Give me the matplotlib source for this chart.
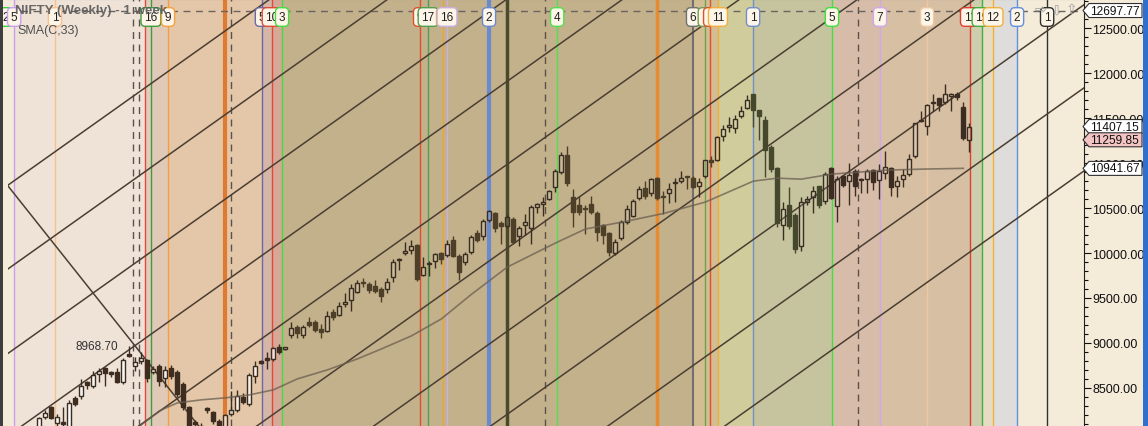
import matplotlib
matplotlib.use("Agg")
import matplotlib.pyplot as plt
from matplotlib.patches import Polygon, Rectangle

W, H = 1148, 427

# weekly NIFTY candles (week index 0 = first visible bar)
opens = [8050, 8178, 8290, 8110, 8120, 8060, 8390, 8411, 8570, 8522, 8660, 8722, 8678, 8678, 8567,
         8880, 8745, 8800, 8811, 8678, 8745, 8611, 8722, 8678, 8544, 8289, 8120, 8080, 8280, 8233,
         8130, 8070, 8211, 8256, 8400, 8322, 8633, 8800, 8833, 8822, 8955, 8940, 9089, 9178, 9089,
         9233, 9233, 9155, 9133, 9344, 9311, 9440, 9478, 9567, 9680, 9656, 9633, 9600, 9600, 9733,
         9920, 10000, 10033, 10089, 9756, 9880, 9911, 10000, 9978, 10144, 9967, 9900, 10011, 10222, 10189,
         10367, 10444, 10333, 10300, 10378, 10189, 10311, 10278, 10511, 10544, 10600, 10733, 10900, 11089, 10622,
         10533, 10500, 10544, 10444, 10311, 10222, 10000, 10167, 10344, 10411, 10611, 10722, 10667, 10833, 10630,
         10667, 10780, 10800, 10850, 10833, 10744, 10856, 11030, 11033, 11300, 11400, 11389, 11522, 11611, 11767,
         11589, 11478, 11178, 10944, 10311, 10533, 10422, 10078, 10567, 10622, 10744, 10578, 10944, 10522, 10856,
         10800, 10911, 10820, 10822, 10922, 10811, 10889, 10944, 10744, 10822, 10878, 11078, 11480, 11411, 11670,
         11722, 11678, 11745, 11767, 11622, 11260]
highs = [8180, 8250, 8300, 8210, 8290, 8367, 8410, 8600, 8580, 8690, 8720, 8735, 8690, 8720, 8830,
         8968.7, 8845, 8900, 8820, 8740, 8770, 8745, 8750, 8700, 8570, 8300, 8140, 8110, 8290, 8240,
         8150, 8210, 8470, 8480, 8440, 8670, 8800, 8810, 8900, 8960, 8990, 8960, 9230, 9200, 9200,
         9290, 9250, 9210, 9360, 9380, 9460, 9560, 9660, 9700, 9720, 9680, 9700, 9620, 9720, 9930,
         9950, 10120, 10140, 10100, 9955, 9910, 10000, 10010, 10140, 10190, 9990, 10010, 10200, 10260, 10380,
         10480, 10460, 10360, 10420, 10400, 10300, 10430, 10530, 10560, 10620, 10700, 10930, 11120, 11190, 10710,
         10630, 10530, 10630, 10470, 10320, 10230, 10160, 10370, 10530, 10600, 10750, 10800, 10830, 10850, 10690,
         10780, 10830, 10910, 10860, 10860, 10833, 11040, 11080, 11300, 11420, 11510, 11540, 11640, 11760, 11770,
         11590, 11520, 11200, 10960, 10570, 10740, 10440, 10620, 10640, 10745, 10750, 10900, 10960, 10860, 10870,
         11000, 10930, 10840, 10930, 10930, 10990, 11130, 10960, 10860, 10930, 11100, 11450, 11580, 11660, 11770,
         11730, 11880, 11780, 11790, 11680, 11450]
lows = [8000, 8150, 8150, 8080, 8080, 8020, 8300, 8380, 8490, 8500, 8560, 8525, 8620, 8550, 8540,
        8840, 8690, 8770, 8570, 8650, 8520, 8510, 8600, 8400, 8250, 8030, 8050, 8000, 8220, 8100,
        8030, 8030, 8190, 8230, 8320, 8300, 8550, 8770, 8710, 8800, 8880, 8920, 9060, 9060, 9060,
        9180, 9120, 9050, 9120, 9260, 9300, 9400, 9350, 9550, 9620, 9560, 9560, 9460, 9550, 9680,
        9810, 9980, 9990, 9690, 9740, 9740, 9830, 9880, 9960, 9960, 9700, 9870, 9990, 10120, 10140,
        10350, 10230, 10100, 10280, 10100, 10080, 10200, 10100, 10450, 10410, 10590, 10680, 10880, 10745, 10290,
        10420, 10210, 10430, 10130, 10100, 9970, 9980, 10150, 10320, 10400, 10590, 10600, 10640, 10590, 10430,
        10560, 10570, 10780, 10710, 10720, 10620, 10840, 10960, 11020, 11250, 11350, 11330, 11500, 11600, 11400,
        11260, 10850, 10900, 10290, 10150, 10270, 10000, 10020, 10530, 10450, 10500, 10550, 10600, 10340, 10730,
        10530, 10640, 10670, 10670, 10700, 10600, 10820, 10630, 10620, 10740, 10860, 11060, 11460, 11310, 11580,
        11580, 11660, 11580, 11700, 11260, 11120]
closes = [8165, 8222, 8167, 8178, 8100, 8330, 8322, 8522, 8535, 8645, 8690, 8667, 8660, 8567, 8811,
          8856, 8789, 8833, 8611, 8711, 8578, 8700, 8633, 8433, 8289, 8070, 8100, 8060, 8256, 8133,
          8075, 8200, 8256, 8411, 8344, 8645, 8745, 8778, 8811, 8944, 8900, 8950, 9167, 9111, 9178,
          9200, 9144, 9122, 9300, 9289, 9411, 9450, 9611, 9667, 9670, 9589, 9578, 9522, 9678, 9900,
          9930, 10020, 10078, 9711, 9844, 9890, 9990, 9933, 10100, 9967, 9789, 9990, 10178, 10144, 10356,
          10467, 10278, 10300, 10400, 10122, 10278, 10344, 10511, 10544, 10567, 10689, 10911, 11089, 10778, 10456,
          10456, 10490, 10456, 10233, 10200, 10011, 10122, 10344, 10489, 10578, 10711, 10633, 10822, 10611, 10620,
          10711, 10785, 10833, 10845, 10733, 10789, 11033, 11020, 11289, 11378, 11420, 11489, 11578, 11700, 11589,
          11522, 11144, 10933, 10333, 10489, 10300, 10044, 10567, 10600, 10689, 10533, 10878, 10611, 10822, 10756,
          10867, 10744, 10815, 10911, 10789, 10911, 10956, 10733, 10800, 10867, 11044, 11444, 11470, 11644, 11680,
          11644, 11767, 11767, 11733, 11278, 11407.15]

# SMA(C,33)
sma_weeks = [16.8, 20, 23, 27, 31, 35, 39, 43, 48, 53, 57, 62, 67, 72, 78, 86, 91, 98, 104, 111,
             119, 123, 127, 132, 141, 148, 154]
sma_values = [8078, 8244, 8333, 8367, 8389, 8422, 8478, 8600, 8700, 8822, 8933, 9078, 9267, 9540, 9844,
              10111, 10267, 10356, 10440, 10567, 10800, 10833, 10822, 10878, 10922, 10935, 10942]

# time-cycle markers
cycle_weeks = [-5.55, -4.2, 2.6, 17.6, 18.6, 21.45, 30.95, 37.1, 38.8, 40.45, 63.45, 64.8, 67.3, 67.95,
               74.95, 77.95, 86.3, 102.95, 108.95, 110.9, 111.8, 113.1, 118.95, 132.1, 140.1, 147.95,
               155.1, 157.1, 158.95, 162.95, 167.95]
cycle_labels = ["2", "5", "1", "", "16", "9", "", "5", "10", "3", "9", "17", "1", "16",
                "2", "", "4", "", "6", "1", "1", "11", "1", "5", "7", "3",
                "11", "19", "12", "2", "1"]
cycle_colors = ["#40d040", "#c8a0f0", "#f8c090", "#e04a3a", "#409a40", "#f5a040", "#e07a30", "#6a6aa8",
                "#e04a3a", "#40e040", "#e0502a", "#50a050", "#e8a830", "#c8b0e0", "#6a8ad0", "#4a4a2a",
                "#50e050", "#e88a30", "#707070", "#70a050", "#e05030", "#f0b040", "#7090c8", "#40e040",
                "#d0a8e8", "#f0c8a0", "#e04030", "#40b040", "#f0b040", "#6090e0", "#303030"]
dashed_weeks = [15.6, 16.6, 31.95, 84.3, 136.45]

zone_edges = [-5.22, -4.2, 17.6, 18.6, 21.45, 37.1, 38.8, 40.45, 108.95, 113.1, 118.95, 132.1,
              140.1, 155.1, 157.1, 158.95, 162.95, 175]
zone_colors = ["#f4ebda", "#efe3d8", "#e2cdbd", "#e0c9b6", "#e4c6a8", "#d6b6a7", "#d5a897", "#c3b18b",
               "#d3bd92", "#d0cc9b", "#c5c49e", "#d7bcaa", "#d7bfa3", "#ccceae", "#e6dcc3", "#dedddb",
               "#f4ebd9"]

# parallel channel lines: price at week 0, common slope (points / week)
fan_anchors = [11003, 10071, 9131, 8215, 7291, 6358, 5434, 4510, 3585, 2661]
fan_slope = 47.4
fall_start = (-5.22, 10746)
fall_slope = -84.0

price_tags = [12697.77, 11407.15, 11259.85, 10941.67]
tag_fills = ["white", "white", "#f4c4c4", "white"]
top_level = 12697.77
high_label = (15, 8968.70)

X0, X1 = -5.22, 174.1
Y0, Y1 = 8076, 12826

fig = plt.figure(figsize=(W / 100, H / 100), dpi=100, facecolor="#f4ebd9")
ax = fig.add_axes([8 / W, 0, (1084 - 8) / W, 1])
ax.set_xlim(X0, X1)
ax.set_ylim(Y0, Y1)
ax.set_facecolor("#f4ebd9")

# background zones
for a, b, c in zip(zone_edges[:-1], zone_edges[1:], zone_colors):
    ax.axvspan(a, b, color=c, lw=0, zorder=0)

# cycle lines
thick = {30.95: 3, 74.95: 3, 77.95: 2.5, 102.95: 2.5, 108.95: 1.5}
for w, c in zip(cycle_weeks[1:], cycle_colors[1:]):
    ax.axvline(w, color=c, lw=thick.get(w, 1.0), zorder=1)
for w in dashed_weeks:
    ax.axvline(w, color="#5a5248", lw=1, ls=(0, (5, 4)), zorder=1)
ax.axhline(top_level, color="#6a6460", lw=1, ls=(0, (5, 4)), zorder=1)

# channel lines
for a in fan_anchors:
    ax.plot([X0, X1], [a + fan_slope * X0, a + fan_slope * X1], color="#4a3e32", lw=1.1, zorder=2)
ax.plot([fall_start[0], X1], [fall_start[1], fall_start[1] + fall_slope * (X1 - fall_start[0])],
        color="#4a3e32", lw=1.1, zorder=2)

# candles
for i, (o, h, l, c) in enumerate(zip(opens, highs, lows, closes)):
    up = c >= o
    lo, hi = min(o, c), max(o, c)
    if hi - lo < 14:
        mid = (hi + lo) / 2
        lo, hi = mid - 7, mid + 7
    if i < 40.45:
        dark = "#3e2c20"
    elif i < 113:
        dark = "#4e4028"
    elif i < 132:
        dark = "#46482e"
    else:
        dark = "#3c2c22"
    edge = "#3a2e22"
    ax.vlines(i, hi, h, color=edge if up else dark, lw=1, zorder=3)
    ax.vlines(i, l, lo, color=edge if up else dark, lw=1, zorder=3)
    if up:
        fc = (1, 1, 1, 0.7) if i < 40.45 else (1, 1, 1, 0.12)
        ax.add_patch(Rectangle((i - 0.32, lo), 0.64, hi - lo, fc=fc, ec=edge, lw=1, zorder=3))
    else:
        ax.add_patch(Rectangle((i - 0.32, lo), 0.64, hi - lo, fc=dark, ec=dark, lw=1, zorder=3))

ax.plot(sma_weeks, sma_values, color="#6a5e50", lw=1.2, alpha=0.75, zorder=4)

ax.text(high_label[0] - 1.9, high_label[1], f"{high_label[1]:.2f}", ha="right", va="center",
        fontsize=8.5, color="#333333", family="Liberation Sans", zorder=5)

# cycle label boxes
for w, t, c in zip(cycle_weeks, cycle_labels, cycle_colors):
    if not t:
        continue
    ax.text(w, Y1 - 18 / 427 * (Y1 - Y0), t, ha="center", va="center", fontsize=8.5,
            family="Liberation Sans", color="#202020", zorder=6, clip_on=False,
            bbox=dict(boxstyle="round,pad=0.28,rounding_size=0.35", fc="#fcf5e8", ec=c, lw=1))

# right price axis
ax.yaxis.tick_right()
ax.set_yticks(range(8500, 12501, 500))
ax.set_yticklabels([f"{v:.2f}" for v in range(8500, 12501, 500)], family="Liberation Sans",
                   fontsize=9)
ax.set_yticks(range(8100, 12801, 100), minor=True)
ax.tick_params(axis="y", which="major", length=5, width=0.8, pad=1, colors="#101010")
ax.tick_params(axis="y", which="minor", length=3, width=0.8, colors="#101010")
ax.set_xticks([])
for s in ["left", "bottom"]:
    ax.spines[s].set_visible(False)
ax.spines["top"].set_color("#8a8a8a")
ax.spines["top"].set_linewidth(1.5)
ax.spines["right"].set_color("#202020")
ax.spines["right"].set_linewidth(0.8)


def ypx(v):
    return (Y1 - v) / (Y1 - Y0) * H


def fpt(x, y):
    return (x / W, 1 - y / H)


for v, fc in zip(price_tags, tag_fills):
    yc = ypx(v)
    pts = [fpt(1083, yc), fpt(1089, yc - 7), fpt(1142, yc - 7), fpt(1142, yc + 7), fpt(1089, yc + 7)]
    fig.patches.append(Polygon(pts, closed=True, fc=fc, ec="#303030", lw=0.8,
                               transform=fig.transFigure, zorder=5))
    fig.text(1090 / W, 1 - yc / H, f"{v:.2f}", ha="left", va="center", fontsize=8.6,
             family="Liberation Sans", color="#101010", zorder=6)

# edge strips and toolbar glyphs
fig.patches.append(Rectangle((0, 0), 3 / W, 1, fc="#3e3e3e", lw=0, transform=fig.transFigure, zorder=5))
fig.patches.append(Rectangle((1143 / W, 0), 5 / W, 1, fc="#2f6fd0", lw=0, transform=fig.transFigure,
                             zorder=5))
for x, g in zip([1040, 1056, 1071], ["\u21e8", "\u21e9", "\u21e7"]):
    fig.text(x / W, 1 - 10 / H, g, ha="center", va="center", fontsize=10, color="#a0a0a0",
             family="DejaVu Sans", zorder=6)

fig.text(15 / W, 1 - 11 / H, "NIFTY (Weekly) - 1 week", ha="left", va="center", fontsize=9.6,
         fontweight="bold", color="#5a5a5a", alpha=0.9, family="Liberation Sans", zorder=7)
fig.text(17 / W, 1 - 31 / H, "SMA(C,33)", ha="left", va="center", fontsize=9,
         color="#505050", family="Liberation Sans", zorder=7)

fig.savefig("out.png", dpi=100, facecolor=fig.get_facecolor())
